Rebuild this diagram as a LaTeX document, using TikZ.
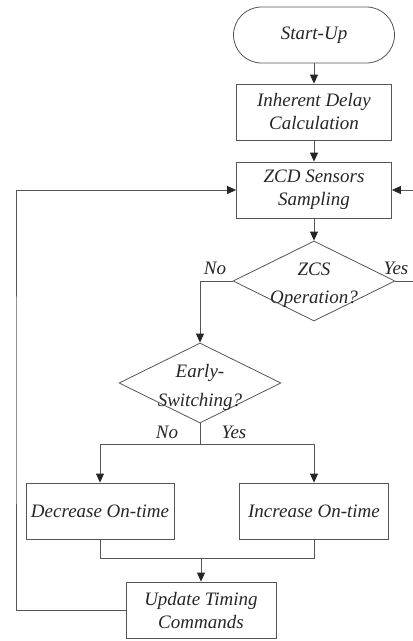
\documentclass[tikz,border=0pt]{standalone}
\usepackage{fontspec}
\setmainfont{Liberation Serif}
\usetikzlibrary{shapes.geometric,arrows.meta}
\definecolor{ln}{HTML}{555555}
\begin{document}
\begin{tikzpicture}[x=1pt,y=-1pt,
  every node/.style={font=\fontsize{19}{23}\selectfont\itshape, text=black!85},
  box/.style={draw=ln, line width=0.8pt, rectangle, inner sep=0pt, align=center, minimum height=56pt},
  dia/.style={draw=ln, line width=0.8pt, diamond, inner sep=0pt, minimum width=162pt, minimum height=80pt},
  dtext/.style={align=center, inner sep=0pt, font=\fontsize{19}{28.5}\selectfont\itshape},
  lbl/.style={inner sep=0pt},
  wire/.style={draw=ln, line width=0.8pt},
  conn/.style={draw=ln, line width=0.8pt, -{Triangle[length=9pt,width=8pt,color=black!85]}}
]
\useasboundingbox (0,0) rectangle (413,641);
\node[draw=ln, line width=0.8pt, rounded corners=28pt, minimum width=161pt, minimum height=56pt, inner sep=0pt] (start) at (314,35) {Start-Up};
\node[box, minimum width=155pt] (inh) at (314,112) {Inherent Delay\\Calculation};
\node[box, minimum width=155pt] (zcd) at (314,190) {ZCD Sensors\\Sampling};
\node[dia] (zcs) at (314,281) {};
\node[dtext] (zcst) at (314,285) {ZCS\\Operation?};
\node[dia] (early) at (200,383) {};
\node[dtext] (earlyt) at (200,387.5) {Early-\\Switching?};
\node[box, minimum width=148pt] (dec) at (100,511) {Decrease On-time};
\node[box, minimum width=149pt] (inc) at (314,511) {Increase On-time};
\node[box, minimum width=150pt] (upd) at (201,610) {Update Timing\\Commands};

\node[lbl] (no1) at (215,268) {No};
\node[lbl] (yes1) at (396,268) {Yes};
\node[lbl] (no2) at (167,432) {No};
\node[lbl] (yes2) at (234,432) {Yes};

\coordinate (redge1) at (413,281);
\coordinate (redge2) at (413,190);
\coordinate (split) at (200,444);
\coordinate (merge) at (201,558);
\coordinate (loopc) at (16,400);

\draw[conn] (start) -- (inh);
\draw[conn] (inh) -- (zcd);
\draw[conn] (zcd) -- (zcs.north);
\draw[conn] (zcs.west) -| (early.north);
\draw[wire] (zcs.east) -- (redge1);
\draw[conn] (redge2) -- (zcd.east);
\draw[wire] (early.south) -- (split);
\draw[conn] (split) -| (dec.north);
\draw[conn] (split) -| (inc.north);
\draw[wire] (dec.south) |- (merge);
\draw[wire] (inc.south) |- (merge);
\draw[conn] (merge) -- (upd.north);
\draw[conn] (upd.west) -| (loopc) |- (zcd.west);
\end{tikzpicture}
\end{document}
